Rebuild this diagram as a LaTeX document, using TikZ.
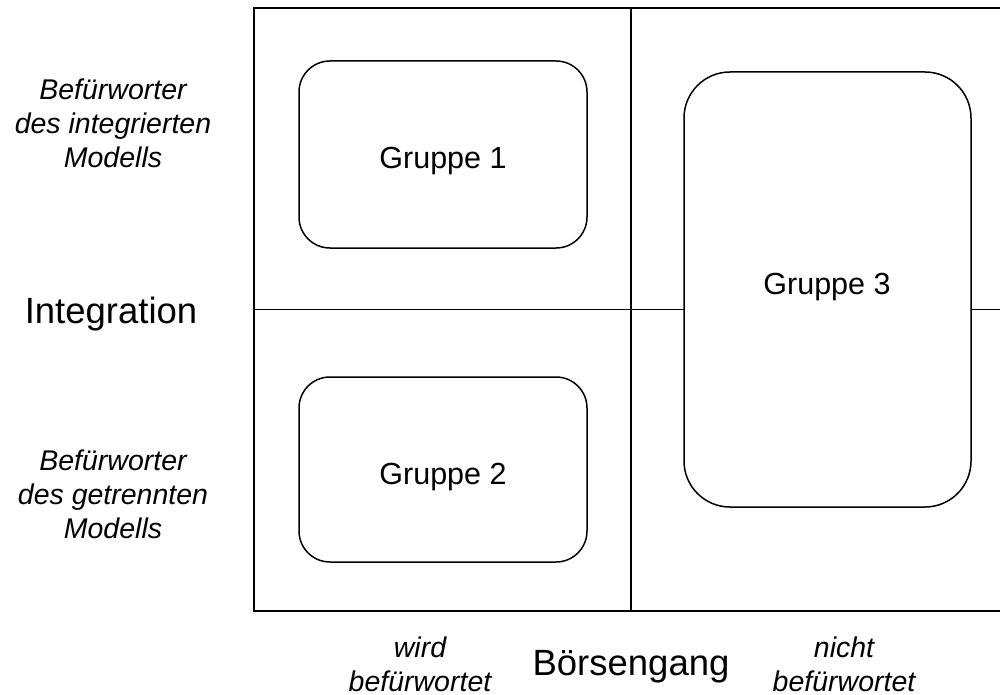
\documentclass[tikz,border=0pt]{standalone}
\usepackage{fontspec}
\setmainfont{Liberation Sans}
\begin{document}
\begin{tikzpicture}[x=1pt,y=-1pt,line width=1.6pt,
  grpbox/.style={draw,fill=white,inner sep=0pt,line width=1.5pt},
  grptext/.style={font=\fontsize{30.5}{36}\selectfont,inner sep=0pt},
  side/.style={font=\fontsize{28.5}{34}\selectfont\itshape,align=center,inner sep=0pt},
  axis/.style={font=\fontsize{36.5}{42}\selectfont,inner sep=0pt}]
\clip (0,0) rectangle (1000,695);
\node[draw,minimum width=754pt,minimum height=603pt,inner sep=0pt] (frame) at (631,309.5) {};
\draw (frame.north) -- (frame.south);
\draw (frame.west) -- (frame.east);
\node[grpbox,minimum width=288pt,minimum height=187pt,rounded corners=31pt] (g1) at (443,154.5) {};
\node[grpbox,minimum width=288pt,minimum height=185pt,rounded corners=31pt] (g2) at (443,469.5) {};
\node[grpbox,minimum width=287pt,minimum height=435pt,rounded corners=46pt] (g3) at (827.5,289.5) {};
\node[grptext,anchor=base] (t1) at (443,168) {Gruppe 1};
\node[grptext,anchor=base] (t2) at (443,484) {Gruppe 2};
\node[grptext,anchor=base] (t3) at (827,294) {Gruppe 3};
\node[side] (l1) at (113,123) {Befürworter\\des integrierten\\Modells};
\node[side] (l2) at (113,494) {Befürworter\\des getrennten\\Modells};
\node[axis,anchor=base] (int) at (111,323) {Integration};
\node[axis,anchor=base] (boe) at (631,675) {Börsengang};
\node[side] (b1) at (420,664.5) {wird\\befürwortet};
\node[side] (b2) at (844,664.5) {nicht\\befürwortet};
\end{tikzpicture}
\end{document}
